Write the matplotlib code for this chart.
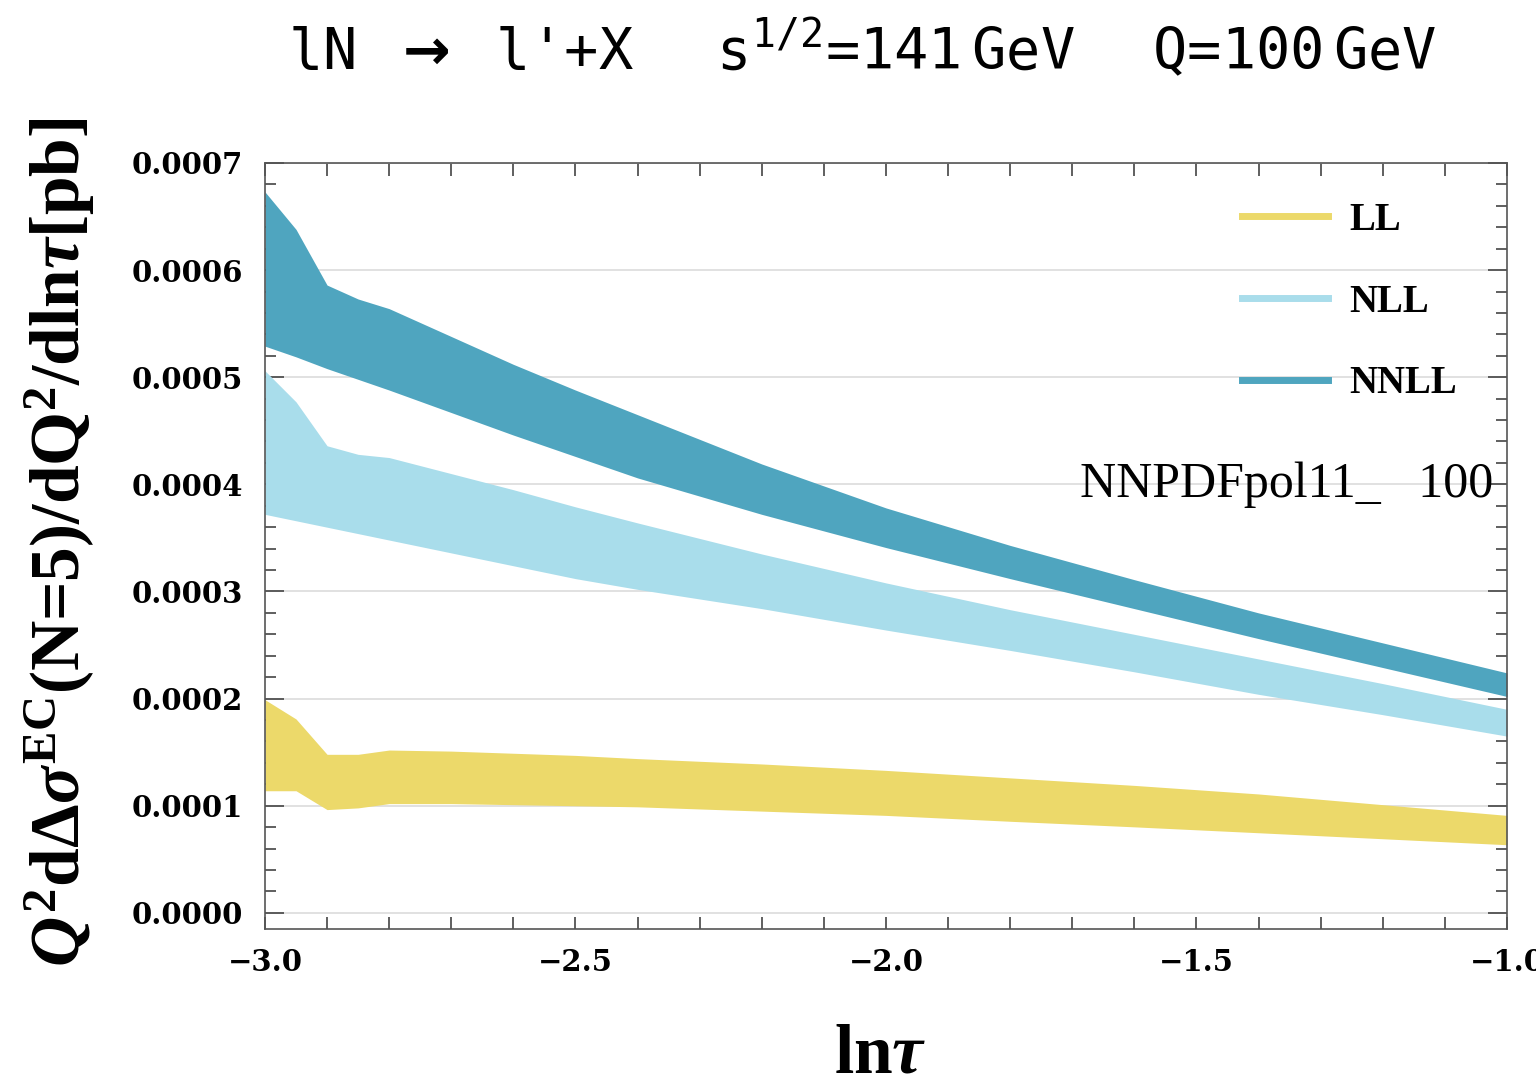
import matplotlib
matplotlib.use('agg')
import matplotlib.pyplot as plt
from matplotlib.lines import Line2D
from matplotlib.ticker import MultipleLocator, FuncFormatter

# ln(tau) grid and band edges (units: pb)
ln_tau = [-3.0, -2.95, -2.9, -2.85, -2.8, -2.7, -2.6, -2.5, -2.4, -2.2,
          -2.0, -1.8, -1.6, -1.4, -1.2, -1.0]

ll_lo = [0.000114, 0.000114, 0.0000964, 0.000098, 0.000102, 0.000102, 0.000101, 0.000100,
         0.000099, 0.000095, 0.000091, 0.0000855, 0.0000803, 0.0000748, 0.0000692, 0.0000636]
ll_hi = [0.000199, 0.000181, 0.000148, 0.000148, 0.000152, 0.000151, 0.000149, 0.000147,
         0.000144, 0.000139, 0.000133, 0.000126, 0.000119, 0.000111, 0.000101, 0.000091]

nll_lo = [0.000372, 0.000366, 0.000360, 0.000354, 0.000348, 0.000336, 0.000324, 0.000312,
          0.000302, 0.000284, 0.000264, 0.000245, 0.000225, 0.000204, 0.000185, 0.000165]
nll_hi = [0.000506, 0.000477, 0.000436, 0.000428, 0.000425, 0.000410, 0.000395, 0.000379,
          0.000364, 0.000335, 0.000308, 0.000283, 0.000260, 0.000237, 0.000214, 0.000190]

nnll_lo = [0.000529, 0.000519, 0.000508, 0.000498, 0.000488, 0.000467, 0.000446, 0.000426,
           0.000406, 0.000372, 0.000341, 0.000312, 0.000284, 0.000256, 0.000229, 0.000202]
nnll_hi = [0.000673, 0.000638, 0.000586, 0.000573, 0.000564, 0.000538, 0.000512, 0.000488,
           0.000465, 0.000419, 0.000378, 0.000343, 0.000311, 0.000280, 0.000252, 0.000224]

labels = ["LL", "NLL", "NNLL"]
colors = ["#ECD96A", "#A9DDEB", "#4FA5BF"]

plt.rcParams['mathtext.fontset'] = 'custom'
plt.rcParams['mathtext.rm'] = 'Liberation Serif:bold'
plt.rcParams['mathtext.bf'] = 'Liberation Serif:bold'
plt.rcParams['mathtext.it'] = 'Liberation Serif:italic:bold'

fig = plt.figure(figsize=(15.36, 10.87), dpi=100)
ax = fig.add_axes([0.1725, 0.1454, 0.8086, 0.7047])

for lo, hi, c in zip([ll_lo, nll_lo, nnll_lo], [ll_hi, nll_hi, nnll_hi], colors):
    ax.fill_between(ln_tau, lo, hi, color=c, lw=0)

ax.set_xlim(-3.0, -1.0)
ax.set_ylim(-0.000015, 0.0007)
ax.set_axisbelow(True)
ax.yaxis.grid(True, which='major', color='#dcdcdc', lw=1.2)

ax.xaxis.set_major_locator(MultipleLocator(0.5))
ax.xaxis.set_minor_locator(MultipleLocator(0.1))
ax.yaxis.set_major_locator(MultipleLocator(0.0001))
ax.yaxis.set_minor_locator(MultipleLocator(0.00002))
ax.xaxis.set_major_formatter(FuncFormatter(lambda v, p: ("%.1f" % v).replace('-', '\u2212')))
ax.yaxis.set_major_formatter(FuncFormatter(lambda v, p: "%.4f" % abs(v)))

ax.tick_params(which='both', direction='in', top=True, right=True, color='#444444', width=1.2)
ax.tick_params(axis='x', which='both', length=9, pad=14)
ax.tick_params(axis='y', which='major', length=14, pad=16)
ax.tick_params(axis='y', which='minor', length=8)
for lab in ax.get_xticklabels() + ax.get_yticklabels():
    lab.set_family('DejaVu Serif')
    lab.set_fontweight('bold')
    lab.set_fontsize(21)
for s in ax.spines.values():
    s.set_color('#555555')
    s.set_linewidth(1.2)

handles = [Line2D([], [], color=c, lw=5) for c in colors]
leg = ax.legend(handles, labels, loc='upper left', bbox_to_anchor=(0.787, 0.949),
                frameon=False, borderaxespad=0, borderpad=0, handlelength=2.2,
                handletextpad=0.55, labelspacing=1.15,
                prop={'family': 'Liberation Serif', 'weight': 'bold', 'size': 28})

ax.text(-1.022, 0.0004, "NNPDFpol11_   100", ha='right', va='center',
        family='Liberation Serif', fontsize=36)

fig.text(0.1875, 0.954,
         r"lN $\mathbf{\rightarrow}$ l'+X  $\;$s$^{\mathdefault{1/2}}$=141$\,$GeV  $\,$Q=100$\,$GeV",
         ha='left', va='center', family='DejaVu Sans Mono', fontsize=41,
         math_fontfamily='dejavusans')

fig.text(0.039, 0.501, r"$Q^2$dΔ$\sigma^{\mathrm{EC}}$(N=5)/dQ$^2$/dln$\tau$[pb]",
         rotation=90, ha='center', va='center', family='Liberation Serif',
         fontweight='bold', fontsize=50)
fig.text(0.573, 0.029, r"ln$\tau$", ha='center', va='center',
         family='Liberation Serif', fontweight='bold', fontsize=50)

plt.savefig('out.png', dpi=100)
plt.close(fig)
